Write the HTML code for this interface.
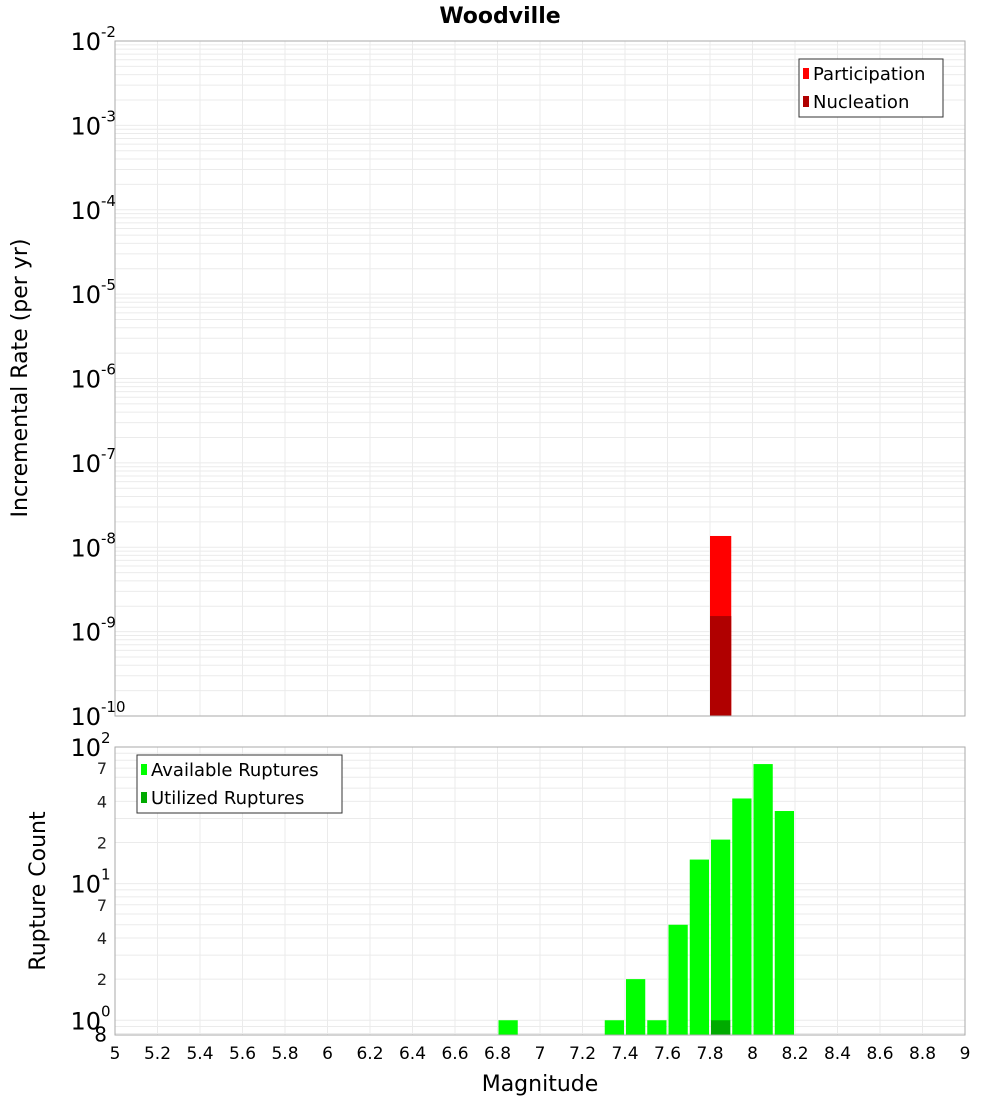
<!DOCTYPE html>
<html><head><meta charset="utf-8"><style>
body{margin:0;background:#fff;font-family:"Liberation Sans","DejaVu Sans",sans-serif;}
svg text{font-family:"DejaVu Sans","Liberation Sans",sans-serif;}
</style></head><body>
<svg id="chart" width="1000" height="1100" xmlns="http://www.w3.org/2000/svg">
<text x="500" y="23" text-anchor="middle" font-size="22" font-weight="bold">Woodville</text>
<g id="topPlot"></g><g id="botPlot"></g>
<text transform="translate(27,378) rotate(-90)" text-anchor="middle" font-size="22">Incremental Rate (per yr)</text>
<text transform="translate(45,891) rotate(-90)" text-anchor="middle" font-size="22">Rupture Count</text>
<text x="540" y="1091" text-anchor="middle" font-size="22">Magnitude</text>
</svg>
<script>
const rateMags = [7.85];
const participation = [1.36e-8];
const nucleation = [1.53e-9];
const countMags = [6.85, 7.35, 7.45, 7.55, 7.65, 7.75, 7.85, 7.95, 8.05, 8.15];
const available = [1, 1, 2, 1, 5, 15, 21, 42, 75, 34];
const utilizedMags = [7.85];
const utilized = [1];
const xTicks = ["5","5.2","5.4","5.6","5.8","6","6.2","6.4","6.6","6.8","7","7.2","7.4","7.6","7.8","8","8.2","8.4","8.6","8.8","9"];
const topExps = [-2,-3,-4,-5,-6,-7,-8,-9,-10];
const botMinorLabels = [2,4,7];

const NS="http://www.w3.org/2000/svg";
const L=115,R=965;
function X(m){return L+(m-5)/4*(R-L);}
const T1=41,B1=716,T2=747,B2=1035;
function Yt(v){return T1+(-2-Math.log10(v))/8*(B1-T1);}
const bLo=Math.log10(0.78),bHi=2;
function Yb(v){return B2-(Math.log10(v)-bLo)/(bHi-bLo)*(B2-T2);}
function mk(p,tag,a,txt){const e=document.createElementNS(NS,tag);for(const k in a)e.setAttribute(k,a[k]);if(txt!==undefined)e.textContent=txt;p.appendChild(e);return e;}
const gTop=document.getElementById('topPlot'), gBot=document.getElementById('botPlot');

function grid(g,T,B,yf,lo,hi){
  for(let d=lo;d<hi;d++)for(let k=1;k<10;k++){const v=k*Math.pow(10,d);const y=yf(v);if(y<T-0.5||y>B+0.5)continue;
    const l=mk(g,'line',{x1:L,x2:R,y1:y,y2:y,stroke:'#ebebeb','stroke-width':1});
    
    }
  xTicks.forEach(t=>{const x=X(+t);const l=mk(g,'line',{x1:x,x2:x,y1:T,y2:B,stroke:'#ebebeb','stroke-width':1});
    
    });
}
grid(gTop,T1,B1,Yt,-10,-1);
grid(gBot,T2,B2,Yb,-1,2);

rateMags.forEach((m,i)=>{
  const r1=mk(gTop,'rect',{x:X(m-0.05),y:Yt(participation[i]),width:X(m+0.05)-X(m-0.05),height:B1-Yt(participation[i]),fill:'#ff0000'});
  
  
  const r2=mk(gTop,'rect',{x:X(m-0.05),y:Yt(nucleation[i]),width:X(m+0.05)-X(m-0.05),height:B1-Yt(nucleation[i]),fill:'#b00000'});
  
  
});
countMags.forEach((m,i)=>{
  const r=mk(gBot,'rect',{x:X(m-0.05)+1,y:Yb(available[i]),width:X(m+0.05)-X(m-0.05)-2,height:B2-Yb(available[i]),fill:'#00ff00'});
  
  
});
utilizedMags.forEach((m,i)=>{
  const r=mk(gBot,'rect',{x:X(m-0.05)+1,y:Yb(utilized[i]),width:X(m+0.05)-X(m-0.05)-2,height:B2-Yb(utilized[i]),fill:'#00aa00'});
  
  
});
const f1=mk(gTop,'rect',{x:L,y:T1,width:R-L,height:B1-T1,fill:'none',stroke:'#aaa'});


const f2=mk(gBot,'rect',{x:L,y:T2,width:R-L,height:B2-T2,fill:'none',stroke:'#aaa'});



topExps.forEach(e=>{
  const y=Yt(Math.pow(10,e));
  const t=mk(gTop,'text',{x:101,y:y+9,'text-anchor':'end','font-size':24},'10');
  
  
  const s=mk(gTop,'text',{x:101,y:y-4,'font-size':15},String(e));
  
  
});
[0,1,2].forEach(e=>{
  const y=Yb(Math.pow(10,e));
  const t=mk(gBot,'text',{x:101,y:y+9,'text-anchor':'end','font-size':24},'10');
  
  
  const s=mk(gBot,'text',{x:101,y:y-4,'font-size':15},String(e));
  
  
});
[0,1].forEach(e=>botMinorLabels.forEach(k=>{
  const y=Yb(k*Math.pow(10,e));
  const t=mk(gBot,'text',{x:107,y:y+6,'text-anchor':'end','font-size':16,fill:'#222'},String(k));
  
  
}));
{const t=mk(gBot,'text',{x:107,y:Yb(0.8)+8,'text-anchor':'end','font-size':20},'8');

}
xTicks.forEach(s=>{
  const t=mk(gBot,'text',{x:X(+s),y:1059,'text-anchor':'middle','font-size':17},s);
  
  
});
function legend(g,x,y,w,items,name){
  const lg=mk(g,'g',{});
  
  
  mk(lg,'rect',{x:x,y:y,width:w,height:58,fill:'#fff',stroke:'#333'});
  items.forEach((it,i)=>{
    const yy=y+14+i*28;
    mk(lg,'rect',{x:x+4,y:yy-5,width:6,height:11,fill:it[1]});
    const t=mk(lg,'text',{x:x+14,y:yy+7,'font-size':18},it[0]);
    
    
  });
}
legend(gTop,799,59,144,[['Participation','#ff0000'],['Nucleation','#b00000']],'legend-top');
legend(gBot,137,755,205,[['Available Ruptures','#00ff00'],['Utilized Ruptures','#00aa00']],'legend-bottom');
</script>
</body></html>
